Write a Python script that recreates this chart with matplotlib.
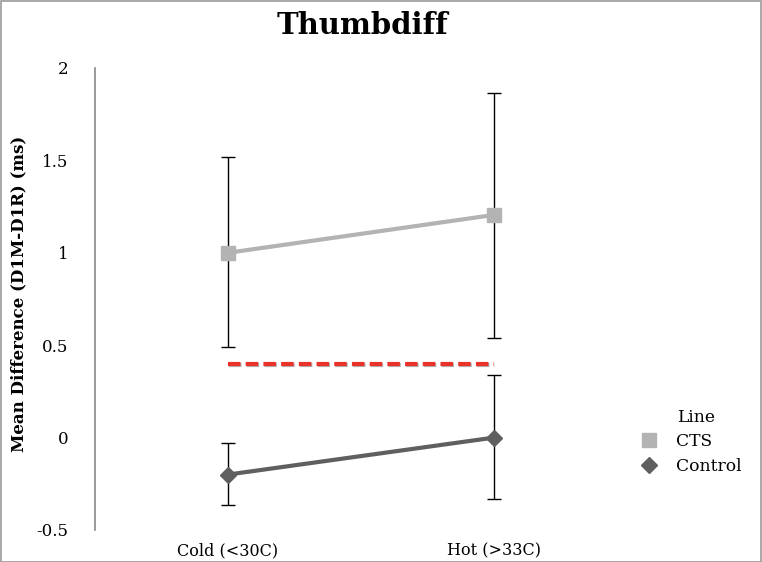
import matplotlib
matplotlib.use("Agg")
import matplotlib.pyplot as plt
from matplotlib.patches import Rectangle
from matplotlib.lines import Line2D
import matplotlib.patheffects as pe

categories = ["Cold (<30C)", "Hot (>33C)"]
cts_mean = [1.00, 1.205]
cts_low = [0.49, 0.54]
cts_high = [1.52, 1.865]
ctrl_mean = [-0.20, 0.00]
ctrl_low = [-0.365, -0.33]
ctrl_high = [-0.03, 0.34]
ref_level = 0.40
yticks = [-0.5, 0, 0.5, 1, 1.5, 2]
ytick_labels = ["-0.5", "0", "0.5", "1", "1.5", "2"]

plt.rcParams['font.family'] = ['DejaVu Serif']

W, H = 762, 562
fig = plt.figure(figsize=(W/100, H/100), dpi=100)
ax = fig.add_axes([95/W, (H-530)/H, (627-95)/W, (530-68)/H])

x = list(range(len(categories)))

def err(mean, lo, hi):
    return [[m - l for m, l in zip(mean, lo)], [h - m for m, h in zip(mean, hi)]]

ax.errorbar(x, cts_mean, yerr=err(cts_mean, cts_low, cts_high), fmt='none',
            ecolor='black', elinewidth=1, capsize=5, capthick=1, zorder=2)
ax.errorbar(x, ctrl_mean, yerr=err(ctrl_mean, ctrl_low, ctrl_high), fmt='none',
            ecolor='black', elinewidth=1, capsize=5, capthick=1, zorder=2)

ax.plot(x, cts_mean, color='#b3b3b3', lw=3, marker='s', ms=9.5, zorder=3)
ax.plot(x, ctrl_mean, color='#5f5f5f', lw=3, marker='D', ms=8, zorder=3)

ax.plot([x[0], x[-1]], [ref_level, ref_level], color='#e8322a', lw=3,
        dashes=(3.0, 1.25), zorder=4,
        path_effects=[pe.SimpleLineShadow(offset=(0.8, -1.2), shadow_color='gray', alpha=0.6), pe.Normal()])

ax.set_xlim(-0.5, 1.5)
ax.set_ylim(-0.5, 2)
ax.set_xticks(x)
ax.set_xticklabels(categories, fontsize=11.5)
ax.set_yticks(yticks)
ax.set_yticklabels(ytick_labels, fontsize=12)
ax.tick_params(length=0)
ax.tick_params(axis='y', pad=19)
ax.tick_params(axis='x', pad=9)
for s in ['top', 'right', 'bottom']:
    ax.spines[s].set_visible(False)
ax.spines['left'].set_color('#888888')
ax.spines['left'].set_linewidth(1.2)
ax.set_ylabel("Mean Difference (D1M-D1R) (ms)", fontsize=12, fontweight='bold')
ax.yaxis.set_label_coords((27 - 95) / (627 - 95), (530 - 294) / (530 - 68))

fig.text(362/W, 1 - 25/H, "Thumbdiff", ha='center', va='center', fontsize=21, fontweight='bold')

handles = [Line2D([], [], color='#b3b3b3', marker='s', ms=9.5, lw=0),
           Line2D([], [], color='#5f5f5f', marker='D', ms=8, lw=0)]
leg = fig.legend(handles, ["CTS", "Control"], loc='center left',
                 bbox_to_anchor=(638/W, 1 - 454/H), frameon=False, fontsize=12.3,
                 handlelength=1.3, handletextpad=0.9,
                 borderaxespad=0, borderpad=0, labelspacing=0.5)
fig.text(677/W, 1 - 418/H, "Line", ha='left', va='center', fontsize=12.3)

fig.patches.append(Rectangle((0.5/W, 0.5/H), 1 - 1.5/W, 1 - 1.5/H, transform=fig.transFigure,
                             fill=False, edgecolor='#999999', lw=1.2))

fig.savefig("out.png", dpi=100)
